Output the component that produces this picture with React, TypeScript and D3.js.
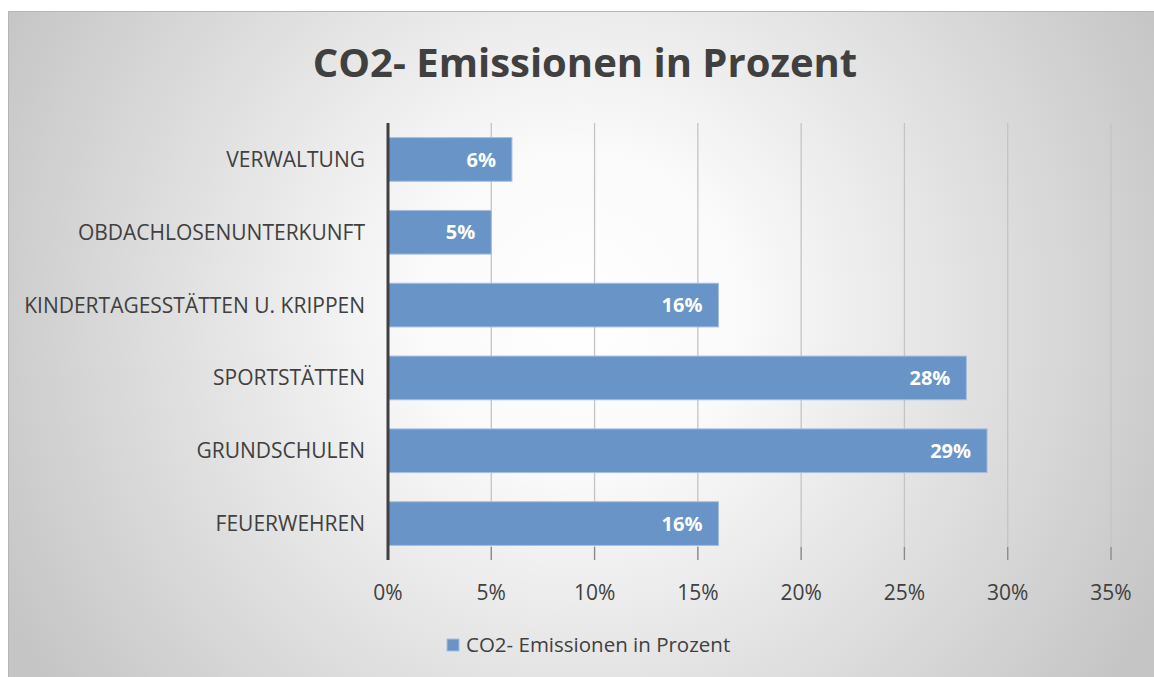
import React from "react";
import * as d3 from "d3";

const categories = ["VERWALTUNG", "OBDACHLOSENUNTERKUNFT", "KINDERTAGESSTÄTTEN U. KRIPPEN", "SPORTSTÄTTEN", "GRUNDSCHULEN", "FEUERWEHREN"];
const values = [0.06, 0.05, 0.16, 0.28, 0.29, 0.16];
const xTicks = [0, 0.05, 0.1, 0.15, 0.2, 0.25, 0.3, 0.35];
const title = "CO2- Emissionen in Prozent";
const seriesName = "CO2- Emissionen in Prozent";

const W = 1154;
const H = 677;
const FONT = "'Open Sans', 'Segoe UI', sans-serif";

export default function App() {
  const x = d3.scaleLinear().domain([0, 0.35]).range([388, 1111]);
  const y = d3.scaleBand<string>().domain(categories).range([123, 560]).paddingInner(0.4).paddingOuter(0.2);
  const pct = d3.format(".0%");

  return (
    <svg width={W} height={H} style={{ position: "absolute", left: 0, top: 0 }}>
      <defs>
        <radialGradient id="bg" gradientUnits="userSpaceOnUse" cx={580} cy={310} r={650}>
          <stop offset="0" stopColor="#ffffff" />
          <stop offset="0.25" stopColor="#fafafa" />
          <stop offset="1" stopColor="#c5c5c5" />
        </radialGradient>
      </defs>
      <rect x={0} y={0} width={W} height={H} fill="#ffffff" />
      <rect x={8} y={11} width={W - 8} height={H - 11} fill="url(#bg)" />
      <line x1={8} x2={W} y1={11.5} y2={11.5} stroke="#b5b5b5" strokeWidth={1} />
      <line x1={8.5} x2={8.5} y1={11} y2={H} stroke="#b5b5b5" strokeWidth={1} />

      <text x={585} y={77} textAnchor="middle" fontFamily={FONT} fontWeight={700} fontSize={40} fill="#404040">
        {title}
      </text>

      {xTicks.slice(1).map((t) => (
        <g key={t}>
          <line x1={x(t)} x2={x(t)} y1={123} y2={560} stroke="#c4c4c4" strokeWidth={1.3} />
          <line x1={x(t)} x2={x(t)} y1={547} y2={560} stroke="#8a8a8a" strokeWidth={1.3} />
        </g>
      ))}

      {categories.map((c, i) => (
        <g key={c}>
          <rect
            x={x(0)}
            y={y(c)!}
            width={x(values[i]) - x(0)}
            height={y.bandwidth()}
            fill="#6894c8"
            stroke="#a7bfdf"
            strokeWidth={1}
          />
          <text
            x={x(values[i]) - 16}
            y={y(c)! + y.bandwidth() / 2}
            dy="0.36em"
            textAnchor="end"
            fontFamily={FONT}
            fontWeight={700}
            fontSize={20}
            fill="#ffffff"
          >
            {pct(values[i])}
          </text>
          <text
            x={365}
            y={y(c)! + y.bandwidth() / 2}
            dy="0.36em"
            textAnchor="end"
            fontFamily={FONT}
            fontSize={21}
            fill="#404040"
          >
            {c}
          </text>
        </g>
      ))}

      <line x1={x(0)} x2={x(0)} y1={123} y2={560} stroke="#404040" strokeWidth={3} />

      {xTicks.map((t) => (
        <text key={t} x={x(t)} y={592} dy="0.36em" textAnchor="middle" fontFamily={FONT} fontSize={21} fill="#404040">
          {pct(t)}
        </text>
      ))}

      <rect x={447} y={639} width={12} height={12} fill="#6894c8" stroke="#a7bfdf" strokeWidth={1} />
      <text x={466} y={645} dy="0.36em" fontFamily={FONT} fontSize={20.5} fill="#404040">
        {seriesName}
      </text>
    </svg>
  );
}
